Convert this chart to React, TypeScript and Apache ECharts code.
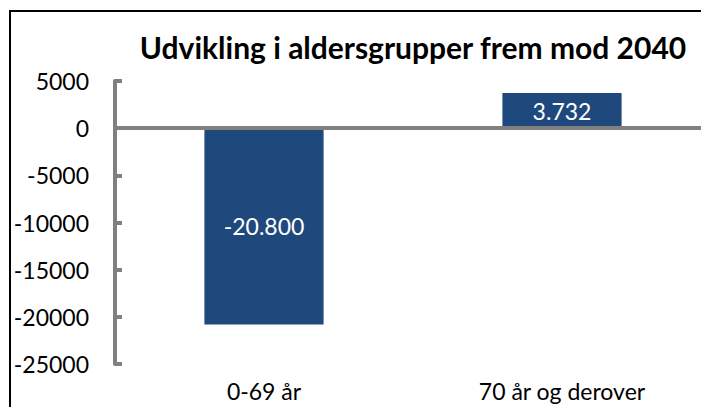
import React, { useEffect, useRef } from "react";
import * as echarts from "echarts";

const categories = ["0-69 år", "70 år og derover"];
const values = [-20800, 3732];
const valueLabels = ["-20.800", "3.732"];
const yMin = -25000;
const yMax = 5000;
const yInterval = 5000;

export default function App() {
  const ref = useRef<HTMLDivElement>(null);
  useEffect(() => {
    const chart = echarts.init(ref.current!, undefined, { renderer: "svg" });
    const font = "Lato";
    chart.setOption({
      animation: false,
      backgroundColor: "#ffffff",
      title: {
        text: "Udvikling i aldersgrupper frem mod 2040",
        left: 408,
        textAlign: "center",
        top: 27,
        textStyle: { fontFamily: font, fontWeight: "bold", fontSize: 30, color: "#000" },
      },
      graphic: [
        {
          type: "rect",
          shape: { x: 10, y: 11, width: 800, height: 600 },
          style: { fill: "none", stroke: "#000", lineWidth: 2 },
          silent: true,
        },
      ],
      grid: { left: 115, top: 81, width: 596, height: 283, containLabel: false },
      xAxis: {
        type: "category",
        data: categories,
        position: "bottom",
        axisLine: { show: false, onZero: false },
        axisTick: { show: false },
        axisLabel: { fontFamily: font, fontSize: 23, color: "#000", margin: 15 },
      },
      yAxis: {
        type: "value",
        min: yMin,
        max: yMax,
        interval: yInterval,
        axisLine: { show: true, lineStyle: { color: "#808080", width: 4 } },
        axisTick: { show: true, inside: true, length: 7, lineStyle: { color: "#808080", width: 4 } },
        splitLine: { show: false },
        axisLabel: {
          fontFamily: font,
          fontSize: 23,
          color: "#000",
          margin: 26,
          formatter: (v: number) => String(v),
        },
      },
      series: [
        {
          type: "bar",
          data: values.map((v, i) => ({
            value: v,
            label: { formatter: valueLabels[i] },
          })),
          barCategoryGap: "60%",
          itemStyle: { color: "#1F497D" },
          label: {
            show: true,
            position: "inside",
            color: "#fff",
            fontFamily: font,
            fontSize: 23,
          },
          markLine: {
            silent: true,
            symbol: "none",
            label: { show: false },
            lineStyle: { color: "#808080", width: 4, type: "solid" },
            data: [{ yAxis: 0 }],
          },
        },
      ],
    });
    return () => chart.dispose();
  }, []);
  return (
    <div
      ref={ref}
      style={{ position: "fixed", left: 0, top: 0, width: 740, height: 407 }}
    />
  );
}
